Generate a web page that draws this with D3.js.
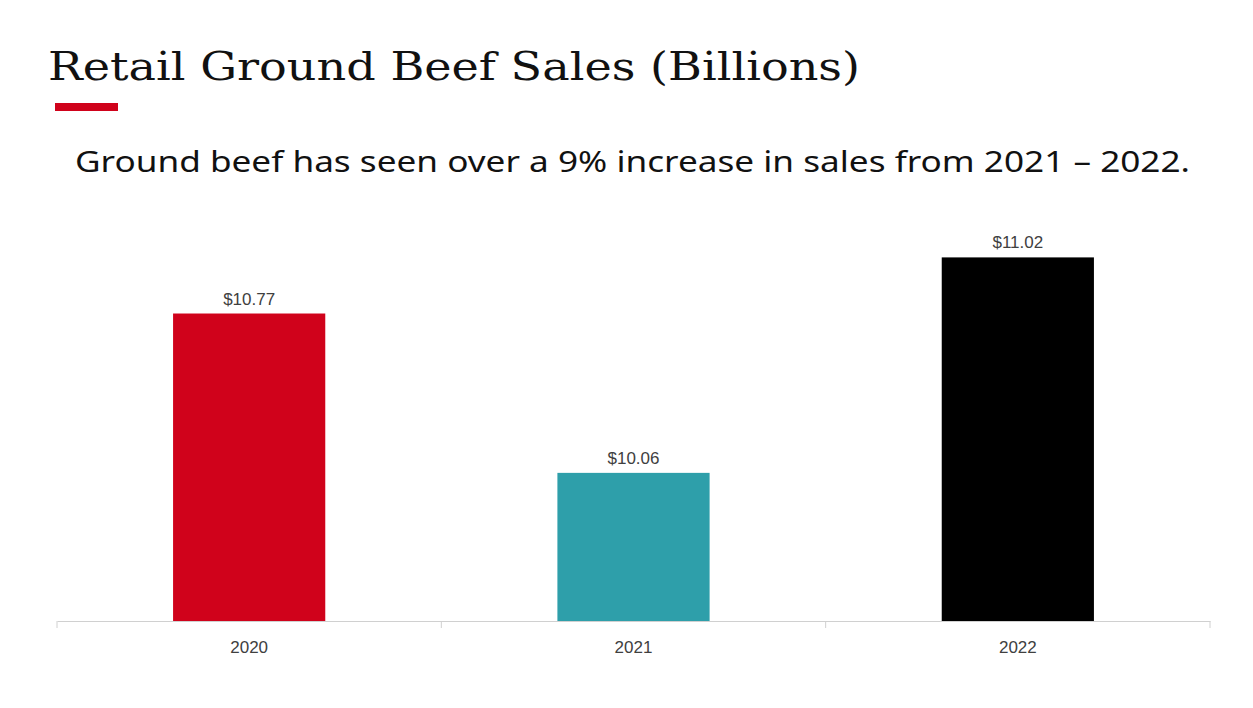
<!DOCTYPE html>
<html><head><meta charset="utf-8">
<script src="https://cdn.jsdelivr.net/npm/d3@7"></script>
<style>body{margin:0;background:#fff}</style></head>
<body><svg id="c" width="1253" height="708"></svg>
<script>
const categories=["2020","2021","2022"];
const values=[10.77,10.06,11.02];
const valueLabels=["$10.77","$10.06","$11.02"];
const colors=["#d0021b","#2e9faa","#000000"];
const svg=d3.select("#c");
svg.append("rect").attr("width",1253).attr("height",708).attr("fill","#fff");
svg.append("text").attr("x",48).attr("y",80).attr("font-family","DejaVu Serif").attr("font-size",40).attr("fill","#111").attr("textLength",812).attr("lengthAdjust","spacingAndGlyphs").text("Retail Ground Beef Sales (Billions)");
svg.append("rect").attr("x",55).attr("y",103).attr("width",63).attr("height",8).attr("fill","#d0021b");
svg.append("text").attr("x",75).attr("y",172).attr("font-family","Noto Sans").attr("font-size",29).attr("fill","#111").attr("textLength",1115).attr("lengthAdjust","spacingAndGlyphs").text("Ground beef has seen over a 9% increase in sales from 2021 – 2022.");
const x=d3.scaleBand().domain(categories).range([57,1210]).padding(0);
const y=d3.scaleLinear().domain([9.4,11.2]).range([621,217]);
const bw=x.bandwidth()*0.396;
svg.selectAll(".bar").data(values).join("rect").attr("x",(d,i)=>x(categories[i])+(x.bandwidth()-bw)/2).attr("y",d=>y(d)).attr("width",bw).attr("height",d=>621-y(d)).attr("fill",(d,i)=>colors[i]);
svg.selectAll(".lbl").data(values).join("text").attr("x",(d,i)=>x(categories[i])+x.bandwidth()/2).attr("y",d=>y(d)-9).attr("text-anchor","middle").attr("font-family","Liberation Sans").attr("font-size",17).attr("fill","#404040").text((d,i)=>valueLabels[i]);
const ax=svg.append("g").attr("transform","translate(0,621)").call(d3.axisBottom(x).tickSize(0).tickPadding(20));
ax.select(".domain").attr("stroke","#d0d0d0");
ax.selectAll("text").attr("font-family","Liberation Sans").attr("font-size",17).attr("fill","#404040");
const edges=[57].concat(categories.map(c=>x(c)+x.bandwidth()));
svg.selectAll(".tk").data(edges).join("line").attr("x1",d=>d).attr("x2",d=>d).attr("y1",621).attr("y2",628).attr("stroke","#d0d0d0");
</script></body></html>
